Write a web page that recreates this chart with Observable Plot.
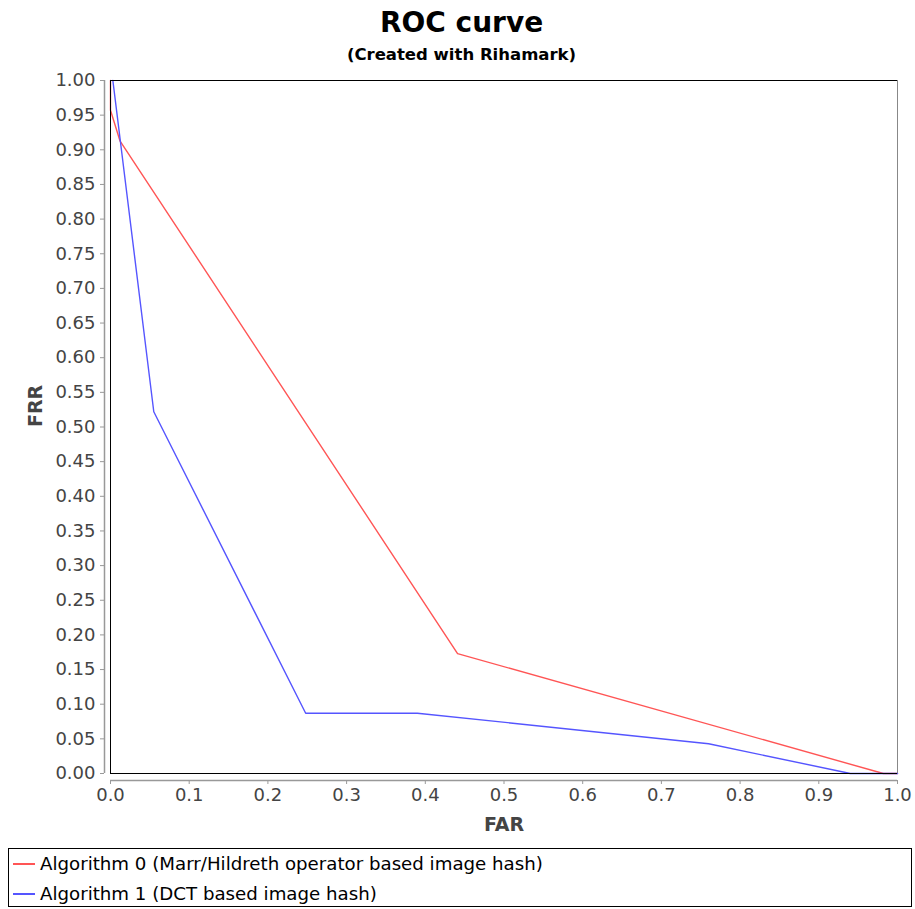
<!DOCTYPE html>
<html>
<head>
<meta charset="utf-8">
<script src="https://cdn.jsdelivr.net/npm/d3@7"></script>
<script src="https://cdn.jsdelivr.net/npm/@observablehq/plot@0.6"></script>
<style>
  body { margin: 0; background: #fff; font-family: "DejaVu Sans", sans-serif; width: 915px; }
  #head { height: 70px; text-align: center; position: relative; }
  #title { position: absolute; left: 0; right: 0; top: 6px; font-weight: bold; font-size: 28px; color: #000; padding-left: 8px; }
  #sub { position: absolute; left: 0; right: 0; top: 45px; font-weight: bold; font-size: 16.5px; color: #000; padding-left: 8px; }
  #legend { position: absolute; left: 8px; top: 848px; width: 904px; height: 59px; border: 1px solid #000; box-sizing: border-box; font-size: 18.2px; color: #000; }
  .item { position: absolute; left: 4px; display: flex; align-items: center; }
  .sw { display: inline-block; width: 22px; height: 2px; margin-right: 5px; }
  #chart svg { display: block; }
</style>
</head>
<body>
<div id="head"><div id="title">ROC curve</div><div id="sub">(Created with Rihamark)</div></div>
<div id="chart"></div>
<div id="legend"></div>
<script>
const seriesNames = ["Algorithm 0 (Marr/Hildreth operator based image hash)", "Algorithm 1 (DCT based image hash)"];
const seriesColors = ["#ff5555", "#5555ff"];
const far0 = [0, 0, 0.012, 0.441, 0.982, 1.0];
const frr0 = [1.0, 0.957, 0.913, 0.173, 0.0, 0.0];
const far1 = [0.003, 0.055, 0.248, 0.390, 0.760, 0.940, 1.0];
const frr1 = [1.0, 0.522, 0.087, 0.087, 0.043, 0.0, 0.0];
const xTicks = [0, 0.1, 0.2, 0.3, 0.4, 0.5, 0.6, 0.7, 0.8, 0.9, 1.0];
const yTicks = d3.range(0, 21).map(i => i * 0.05);

const data = [
  ...far0.map((x, i) => ({s: seriesNames[0], far: x, frr: frr0[i]})),
  ...far1.map((x, i) => ({s: seriesNames[1], far: x, frr: frr1[i]}))
];

const chart = Plot.plot({
  width: 915,
  height: 773,
  marginTop: 10,
  marginBottom: 70,
  marginLeft: 110,
  marginRight: 18,
  style: { fontFamily: "DejaVu Sans, sans-serif", fontSize: "18px", color: "#444" },
  x: { domain: [0, 1], label: null },
  y: { domain: [0, 1], label: null },
  color: { domain: seriesNames, range: seriesColors },
  marks: [
    Plot.line(data, { x: "far", y: "frr", z: "s", stroke: "s", strokeWidth: 1.4 }),
    Plot.ruleX([0], { stroke: "#000", strokeWidth: 1 }),
    Plot.ruleY([1], { stroke: "#000", strokeWidth: 1 }),
    Plot.ruleY([0], { stroke: "#000", strokeWidth: 1 }),
    Plot.ruleX([1], { stroke: "#888", strokeWidth: 1 }),
    Plot.ruleX([0], { stroke: "#999", strokeWidth: 1.5, dx: -6 }),
    Plot.ruleY([0], { stroke: "#999", strokeWidth: 1.5, dy: 7 }),
    Plot.axisY({ ticks: yTicks, tickFormat: d3.format(".2f"), tickSize: 4, dx: -6, tickPadding: 5, stroke: "#999", fill: "#444", fontSize: 18 }),
    Plot.axisX({ ticks: xTicks, tickFormat: d3.format(".1f"), tickSize: 4, dy: 7, tickPadding: 4, stroke: "#999", fill: "#444", fontSize: 18 }),
    Plot.text(["FAR"], { frameAnchor: "bottom", dy: 57, fontWeight: "bold", fontSize: 19, fill: "#444" }),
    Plot.text(["FRR"], { frameAnchor: "left", dx: -75, rotate: -90, fontWeight: "bold", fontSize: 19, fill: "#444" })
  ]
});
document.getElementById("chart").appendChild(chart);

const leg = document.getElementById("legend");
seriesNames.forEach((n, i) => {
  const d = document.createElement("div");
  d.className = "item";
  d.style.top = (i * 30 + 4) + "px";
  d.innerHTML = `<span class="sw" style="background-color:${seriesColors[i]}"></span><span>${n}</span>`;
  leg.appendChild(d);
});
</script>
</body>
</html>
